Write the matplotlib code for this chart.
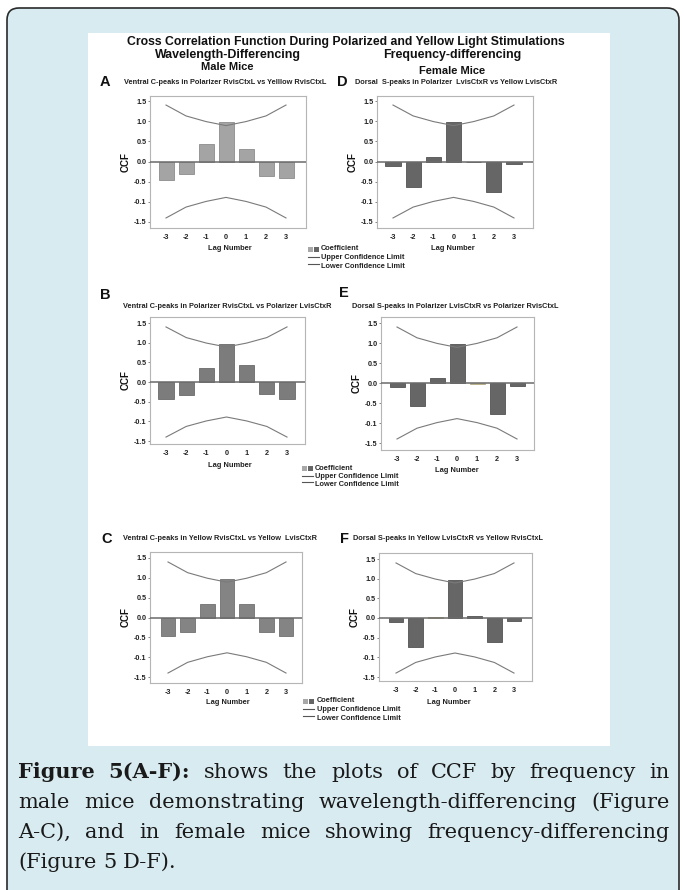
import matplotlib
matplotlib.use('Agg')
import matplotlib.pyplot as plt
from matplotlib.patches import FancyBboxPatch, Rectangle
from matplotlib.lines import Line2D
from matplotlib.transforms import IdentityTransform

# ---------------- data ----------------
lags = [-3, -2, -1, 0, 1, 2, 3]
ccf_A = [-0.46, -0.31, 0.43, 0.99, 0.30, -0.36, -0.41]
ccf_B = [-0.44, -0.34, 0.35, 0.97, 0.43, -0.30, -0.44]
ccf_C = [-0.46, -0.37, 0.33, 0.97, 0.33, -0.37, -0.46]
ccf_D = [-0.11, -0.63, 0.11, 0.99, -0.02, -0.75, -0.07]
ccf_E = [-0.10, -0.57, 0.13, 0.97, -0.03, -0.78, -0.07]
ccf_F = [-0.10, -0.74, 0.02, 0.97, 0.06, -0.61, -0.08]
upper_limit = [1.40, 1.13, 0.99, 0.89, 0.99, 1.13, 1.40]
lower_limit = [-1.40, -1.13, -0.99, -0.89, -0.99, -1.13, -1.40]
ytick_vals = [1.5, 1.0, 0.5, 0.0, -0.5, -1.0, -1.5]
ytick_labels = ['1.5', '1.0', '0.5', '0.0', '-0.5', '-0.1', '-1.5']

main_title = 'Cross Correlation Function During Polarized and Yellow Light Stimulations'
col_titles = ['Wavelength-Differencing', 'Frequency-differencing']
col_sub = ['Male Mice', 'Female Mice']
panel_titles = {
    'A': 'Ventral C-peaks in Polarizer RvisCtxL vs Yelllow RvisCtxL',
    'B': 'Ventral C-peaks in Polarizer RvisCtxL vs Polarizer LvisCtxR',
    'C': 'Ventral C-peaks in Yellow RvisCtxL vs Yellow  LvisCtxR',
    'D': 'Dorsal  S-peaks in Polarizer  LvisCtxR vs Yellow LvisCtxR',
    'E': 'Dorsal S-peaks in Polarizer LvisCtxR vs Polarizer RvisCtxL',
    'F': 'Dorsal S-peaks in Yellow LvisCtxR vs Yellow RvisCtxL',
}
legend_labels = ['Coefficient', 'Upper Confidence Limit', 'Lower Confidence Limit']
caption_lines = [
    [('Figure', True), ('5(A-F):', True), ('shows', False), ('the', False), ('plots', False),
     ('of', False), ('CCF', False), ('by', False), ('frequency', False), ('in', False)],
    [('male', False), ('mice', False), ('demonstrating', False), ('wavelength-differencing', False),
     ('(Figure', False)],
    [('A-C),', False), ('and', False), ('in', False), ('female', False), ('mice', False),
     ('showing', False), ('frequency-differencing', False)],
    [('(Figure', False), ('5', False), ('D-F).', False)],
]

# ---------------- figure ----------------
W, H = 686, 890
fig = plt.figure(figsize=(W / 100, H / 100), dpi=100)
fig.patch.set_facecolor('white')
IDT = IdentityTransform()


def X(x):
    return x / W


def Y(y):
    return 1 - y / H


# outer caption box and white image panel
box = FancyBboxPatch((7, -20), 679 - 7, H - 8 + 20,
                     boxstyle='round,pad=0,rounding_size=12',
                     transform=IDT, facecolor='#d8ebf1', edgecolor='#2a2a2a',
                     linewidth=1.2, zorder=-3)
fig.patches.append(box)
panel = Rectangle((88, H - 746), 610 - 88, 746 - 33, transform=IDT,
                  facecolor='white', edgecolor='none', zorder=-2)
fig.patches.append(panel)

SANS = 'Liberation Sans'

# headings
fig.text(X(346), Y(42), main_title, ha='center', va='center', fontsize=8.8,
         fontweight='bold', family=SANS, color='#111')
fig.text(X(228), Y(55), col_titles[0], ha='center', va='center', fontsize=8.9,
         fontweight='bold', family=SANS, color='#111')
fig.text(X(452), Y(55), col_titles[1], ha='center', va='center', fontsize=8.9,
         fontweight='bold', family=SANS, color='#111')
fig.text(X(227), Y(67), col_sub[0], ha='center', va='center', fontsize=8.0,
         fontweight='bold', family=SANS, color='#111')
fig.text(X(452), Y(71), col_sub[1], ha='center', va='center', fontsize=8.0,
         fontweight='bold', family=SANS, color='#111')

# panel layout: (left, top, right, bottom, y of 1.5, y of -1.5, x of -3, x of 3)
layout = {
    'A': (150, 96, 306, 228, 101, 222, 166, 286),
    'D': (377, 96, 533, 228, 101, 222, 393, 514),
    'B': (150, 317, 305, 444, 323, 441, 166, 287),
    'E': (381, 317, 534, 450, 323, 443, 397, 517),
    'C': (150, 552, 302, 683, 558, 677, 168, 286),
    'F': (379, 553, 532, 681, 559, 677, 396, 514),
}
series = {'A': ccf_A, 'B': ccf_B, 'C': ccf_C, 'D': ccf_D, 'E': ccf_E, 'F': ccf_F}
bar_face = {'A': '#a4a4a4', 'B': '#7c7c7c', 'C': '#848484',
            'D': '#666666', 'E': '#666666', 'F': '#666666'}
bar_edge = {'A': '#8c8c8c', 'B': '#6a6a6a', 'C': '#707070',
            'D': '#535353', 'E': '#535353', 'F': '#535353'}
tan_bars = {'E': [4], 'F': [2]}
letter_pos = {'A': (100, 82), 'D': (337, 82), 'B': (100, 295), 'E': (339, 293),
              'C': (101, 539), 'F': (340, 539)}
title_pos = {'A': (124, 82), 'D': (355, 82), 'B': (123, 306), 'E': (352, 306),
             'C': (123, 539), 'F': (353, 539)}
lag_label_pos = {'A': (230, 249), 'D': (453, 249), 'B': (230, 465), 'E': (457, 471),
                 'C': (228, 702), 'F': (449, 702)}

for key, (l, t, r, b, y15, ym15, xm3, x3) in layout.items():
    ax = fig.add_axes([X(l), Y(b), (r - l) / W, (b - t) / H])
    ppu = (ym15 - y15) / 3.0
    ax.set_ylim(-1.5 - (b - ym15) / ppu, 1.5 + (y15 - t) / ppu)
    ppx = (x3 - xm3) / 6.0
    ax.set_xlim(-3 - (xm3 - l) / ppx, 3 + (r - x3) / ppx)
    vals = series[key]
    fcs = [bar_face[key]] * len(vals)
    ecs = [bar_edge[key]] * len(vals)
    for i in tan_bars.get(key, []):
        fcs[i] = '#c8c197'
        ecs[i] = '#b0a97e'
    ax.bar(lags, vals, width=0.75, color=fcs, edgecolor=ecs, linewidth=0.6, zorder=2)
    ax.axhline(0, color='#6a6a6a', lw=1.1, zorder=3)
    ax.plot(lags, upper_limit, color='#7a7a7a', lw=0.8, zorder=3)
    ax.plot(lags, lower_limit, color='#7a7a7a', lw=0.8, zorder=3)
    ax.set_yticks(ytick_vals)
    ax.set_yticklabels(ytick_labels)
    ax.set_xticks(lags)
    ax.set_xticklabels([str(v) for v in lags])
    for lab in ax.get_yticklabels() + ax.get_xticklabels():
        lab.set_fontsize(5.2)
        lab.set_fontweight('bold')
        lab.set_family(SANS)
        lab.set_color('#222')
    ax.tick_params(axis='y', length=1.5, width=0.5, pad=1, color='#555')
    ax.tick_params(axis='x', length=0, pad=4)
    for sp in ax.spines.values():
        sp.set_color('#b5b5b5')
        sp.set_linewidth(0.8)
    ax.set_facecolor('white')

    # labels
    lx, ly = letter_pos[key]
    fig.text(X(lx), Y(ly), key, ha='left', va='center', fontsize=10.5,
             fontweight='bold', family=SANS, color='#111')
    tx, ty = title_pos[key]
    fig.text(X(tx), Y(ty), panel_titles[key], ha='left', va='center', fontsize=5.3,
             fontweight='bold', family=SANS, color='#222')
    gx, gy = lag_label_pos[key]
    fig.text(X(gx), Y(gy), 'Lag Number', ha='center', va='center', fontsize=5.4,
             fontweight='bold', family=SANS, color='#222')
    fig.text(X(l - 24), Y((t + b) / 2), 'CCF', ha='center', va='center', rotation=90,
             fontsize=7.0, fontweight='bold', family=SANS, color='#111')


def draw_legend(sx, ty0, tx, dy):
    for k, c in enumerate(['#a8a8a8', '#666666']):
        fig.patches.append(Rectangle((sx + k * 6, H - ty0 - 2.5), 4.5, 5, transform=IDT,
                                     facecolor=c, edgecolor='none'))
    fig.lines.append(Line2D([sx, sx + 11], [H - ty0 - dy + 0.5, H - ty0 - dy + 0.5],
                            transform=IDT, color='#555', lw=0.8))
    fig.lines.append(Line2D([sx, sx + 11], [H - ty0 - 1.75 * dy, H - ty0 - 1.75 * dy],
                            transform=IDT, color='#555', lw=0.8))
    for k, lab in enumerate(legend_labels):
        fig.text(X(tx), Y(ty0 + k * dy), lab, ha='left', va='center', fontsize=5.3,
                 fontweight='bold', family=SANS, color='#222')


draw_legend(308, 249, 321, 8.6)
draw_legend(302, 468, 315, 8.2)
draw_legend(303, 701, 317, 8.8)

# ---------------- caption ----------------
CAP_FAMILY = 'DejaVu Serif'
CAP_FS = 15.0
renderer = fig.canvas.get_renderer()


def measure(word, bold):
    t = fig.text(0, 0, word, fontsize=CAP_FS, family=CAP_FAMILY,
                 fontweight='bold' if bold else 'normal')
    w = t.get_window_extent(renderer).width
    t.remove()
    return w


space_w = measure('a a', False) - measure('aa', False)
x0, x1 = 18, 670
baselines = [778, 808, 838, 868]
for li, (tokens, base) in enumerate(zip(caption_lines, baselines)):
    widths = [measure(w, bld) for w, bld in tokens]
    last = li == len(caption_lines) - 1
    if last or len(tokens) < 2:
        gap = space_w
    else:
        gap = (x1 - x0 - sum(widths)) / (len(tokens) - 1)
    x = x0
    for (w, bld), wd in zip(tokens, widths):
        fig.text(X(x), Y(base), w, ha='left', va='baseline', fontsize=CAP_FS,
                 family=CAP_FAMILY, fontweight='bold' if bld else 'normal', color='#1a1a1a')
        x += wd + gap

fig.savefig('out.png', dpi=100, facecolor='white')
